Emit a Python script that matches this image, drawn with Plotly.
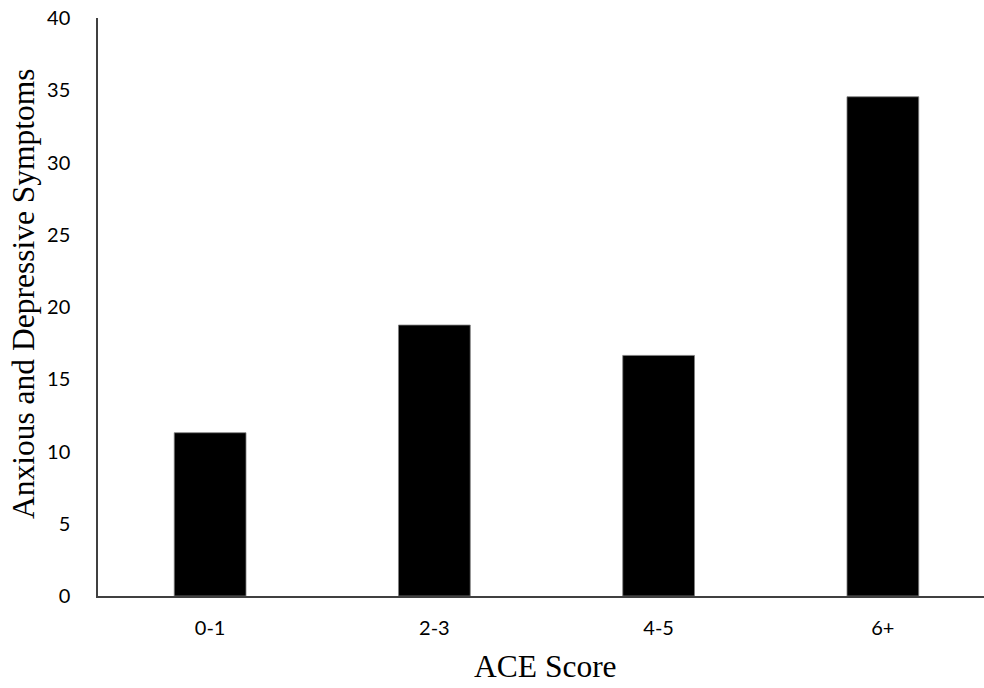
import plotly.graph_objects as go

categories = ["0-1", "2-3", "4-5", "6+"]
values = [11.3, 18.75, 16.65, 34.55]
y_ticks = [0, 5, 10, 15, 20, 25, 30, 35, 40]
x_title = "ACE Score"
y_title = "Anxious and Depressive Symptoms"

TICK_FONT = dict(family="Lato, Open Sans, sans-serif", size=20, color="black")
TITLE_FONT = dict(family="Liberation Serif, Times New Roman, serif", size=31.5, color="black")

fig = go.Figure()
fig.add_trace(go.Bar(
    x=categories, y=values, width=0.32,
    marker=dict(color="black", line=dict(color="#7f7f7f", width=0.8)),
))

fig.update_layout(
    width=984, height=688,
    margin=dict(l=98, r=0, t=18, b=92),
    paper_bgcolor="white", plot_bgcolor="white",
    showlegend=False,
    font=TICK_FONT,
    annotations=[
        dict(text=y_title, textangle=-90, xref="paper", yref="paper",
             x=-0.0835, y=0.5225, xanchor="center", yanchor="middle",
             showarrow=False, font=TITLE_FONT),
        dict(text=x_title, xref="paper", yref="paper",
             x=0.505, y=-0.122, xanchor="center", yanchor="middle",
             showarrow=False, font=TITLE_FONT),
    ],
)
fig.update_xaxes(
    type="category", range=[-0.5, 3.451],
    showline=True, linecolor="#404040", linewidth=1.5,
    showgrid=False, zeroline=False, ticks="",
    ticklabelstandoff=13,
    tickfont=TICK_FONT,
)
fig.update_yaxes(
    range=[0, 40], tickvals=y_ticks,
    showline=True, linecolor="#404040", linewidth=1.5,
    showgrid=False, zeroline=False, ticks="",
    ticklabelstandoff=22,
    tickfont=TICK_FONT,
)

fig.write_html("out.html", config={"displayModeBar": False},
               post_script="document.body.style.margin='0';document.body.style.overflow='hidden';")
